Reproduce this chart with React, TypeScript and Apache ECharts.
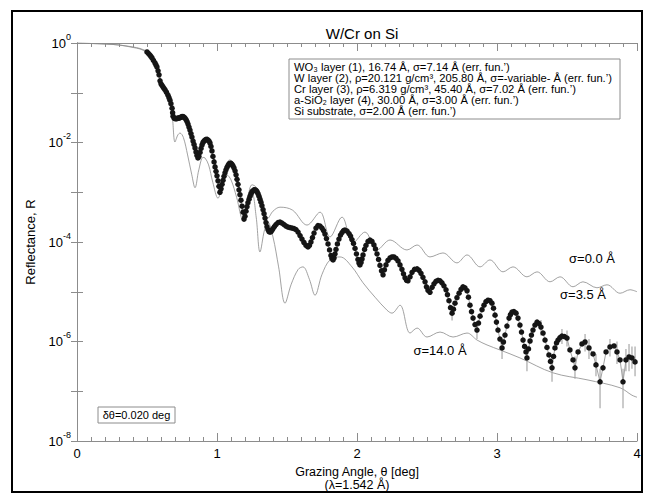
import React, { useEffect, useRef } from 'react';
import * as echarts from 'echarts';

const FONT = '"Liberation Sans", Arial, Helvetica, sans-serif';

// Model curve sigma = 0.0 Å : [theta (deg), log10 R]
const sigma0Curve: [number, number][] = [
  [0, 0], [0.1, -0.01], [0.2, -0.02], [0.3, -0.04], [0.4, -0.08], [0.45, -0.11], [0.48, -0.14],
  [0.5, -0.17], [0.52, -0.22], [0.54, -0.29], [0.56, -0.4], [0.58, -0.56], [0.6, -0.74],
  [0.62, -0.86], [0.64, -0.96], [0.66, -1.08], [0.68, -1.28], [0.695, -1.45], [0.71, -1.47],
  [0.74, -1.45], [0.76, -1.44], [0.78, -1.48], [0.8, -1.62], [0.82, -1.82], [0.845, -2.1],
  [0.86, -2.22], [0.88, -2.1], [0.9, -1.93], [0.93, -1.88], [0.95, -1.95], [0.97, -2.2],
  [0.99, -2.5], [1.02, -2.95], [1.05, -2.62], [1.09, -2.35], [1.12, -2.42], [1.15, -2.72],
  [1.19, -3.45], [1.22, -3.1], [1.25, -2.85], [1.28, -2.9], [1.32, -3.2], [1.364, -3.52],
  [1.4, -3.38], [1.45, -3.3], [1.54, -3.36], [1.643, -3.66], [1.736, -3.4], [1.807, -3.9],
  [1.893, -3.5], [1.971, -4.02], [2.057, -3.8], [2.143, -4.16], [2.236, -3.96], [2.357, -4.16],
  [2.429, -4.06], [2.521, -4.3], [2.614, -4.22], [2.714, -4.42], [2.786, -4.26], [2.879, -4.5],
  [2.95, -4.36], [3.043, -4.6], [3.114, -4.5], [3.214, -4.7], [3.286, -4.6], [3.379, -4.8],
  [3.45, -4.7], [3.543, -4.9], [3.614, -4.8], [3.714, -4.92], [3.786, -4.86], [3.879, -5.03],
  [3.95, -4.96], [4.0, -5.0],
];

// Model curve sigma = 14.0 Å : [theta (deg), log10 R]
const sigma14Curve: [number, number][] = [
  [0, 0], [0.1, -0.01], [0.2, -0.02], [0.3, -0.04], [0.4, -0.09], [0.45, -0.12], [0.48, -0.16],
  [0.5, -0.2], [0.52, -0.26], [0.54, -0.34], [0.56, -0.47], [0.58, -0.64], [0.6, -0.8],
  [0.62, -0.92], [0.64, -1.02], [0.66, -1.15], [0.68, -1.45], [0.7, -1.99], [0.72, -1.85],
  [0.736, -1.81], [0.76, -1.9], [0.79, -2.25], [0.82, -2.65], [0.843, -2.91], [0.87, -2.55],
  [0.9, -2.3], [0.914, -2.31], [0.94, -2.45], [0.97, -2.8], [1.007, -3.12], [1.04, -2.85],
  [1.07, -2.65], [1.1, -2.75], [1.14, -3.1], [1.186, -3.56], [1.22, -3.25], [1.25, -3.0],
  [1.28, -3.5], [1.307, -4.2], [1.34, -3.75], [1.364, -3.6], [1.4, -3.9], [1.44, -4.5],
  [1.486, -5.23], [1.53, -4.85], [1.58, -4.55], [1.614, -4.5], [1.66, -4.75], [1.7, -5.07],
  [1.75, -4.65], [1.807, -4.36], [1.879, -4.3], [1.964, -4.5], [2.043, -4.82], [2.129, -5.11],
  [2.214, -5.37], [2.25, -5.43], [2.307, -5.27], [2.379, -5.83], [2.429, -5.73], [2.5, -5.91],
  [2.593, -5.81], [2.686, -5.91], [2.786, -5.83], [2.857, -5.97], [2.929, -6.07], [3.021, -6.17],
  [3.164, -6.33], [3.4, -6.63], [3.643, -6.77], [3.879, -6.93], [3.964, -7.08], [4.0, -7.12],
];

// Measured reflectance (fit sigma = 3.5 Å) : [theta (deg), log10 R]
const measured: [number, number][] = [
  [0.5, -0.18], [0.51, -0.21], [0.52, -0.24], [0.528, -0.27], [0.536, -0.3], [0.546, -0.35],
  [0.557, -0.4], [0.564, -0.44], [0.571, -0.48], [0.579, -0.56], [0.586, -0.64], [0.593, -0.76],
  [0.6, -0.82], [0.607, -0.85], [0.614, -0.88], [0.621, -0.91], [0.629, -0.94], [0.639, -0.99],
  [0.65, -1.05], [0.657, -1.1], [0.664, -1.15], [0.671, -1.22], [0.679, -1.31], [0.683, -1.4],
  [0.686, -1.47], [0.693, -1.51], [0.7, -1.52], [0.707, -1.52], [0.714, -1.52], [0.721, -1.51],
  [0.729, -1.51], [0.736, -1.5], [0.743, -1.49], [0.75, -1.48], [0.757, -1.48], [0.764, -1.49],
  [0.771, -1.51], [0.779, -1.54], [0.786, -1.58], [0.793, -1.63], [0.8, -1.69], [0.807, -1.75],
  [0.814, -1.82], [0.821, -1.89], [0.829, -1.97], [0.836, -2.04], [0.843, -2.11], [0.85, -2.19],
  [0.857, -2.26], [0.864, -2.31], [0.871, -2.28], [0.879, -2.2], [0.886, -2.12], [0.893, -2.05],
  [0.9, -2.0], [0.907, -1.97], [0.914, -1.95], [0.921, -1.94], [0.929, -1.94], [0.936, -1.95],
  [0.943, -1.97], [0.95, -2.01], [0.957, -2.08], [0.964, -2.17], [0.971, -2.28], [0.979, -2.39],
  [0.986, -2.49], [0.993, -2.58], [1.0, -2.67], [1.007, -2.77], [1.014, -2.88], [1.021, -3.0],
  [1.029, -2.93], [1.036, -2.84], [1.043, -2.76], [1.05, -2.68], [1.057, -2.61], [1.064, -2.55],
  [1.071, -2.5], [1.079, -2.46], [1.086, -2.43], [1.093, -2.42], [1.1, -2.42], [1.107, -2.44],
  [1.114, -2.47], [1.121, -2.51], [1.129, -2.57], [1.136, -2.65], [1.143, -2.74], [1.15, -2.84],
  [1.157, -2.95], [1.164, -3.05], [1.171, -3.16], [1.179, -3.28], [1.186, -3.4], [1.193, -3.54],
  [1.2, -3.48], [1.207, -3.38], [1.214, -3.29], [1.221, -3.21], [1.229, -3.14], [1.236, -3.08],
  [1.243, -3.03], [1.25, -2.99], [1.257, -2.97], [1.264, -2.95], [1.271, -2.95], [1.279, -2.96],
  [1.286, -2.99], [1.293, -3.03], [1.3, -3.08], [1.307, -3.14], [1.314, -3.2], [1.321, -3.27],
  [1.329, -3.35], [1.336, -3.43], [1.343, -3.52], [1.35, -3.61], [1.357, -3.69], [1.364, -3.75],
  [1.371, -3.79], [1.379, -3.8], [1.386, -3.79], [1.393, -3.76], [1.4, -3.73], [1.41, -3.69],
  [1.421, -3.65], [1.436, -3.61], [1.45, -3.6], [1.464, -3.62], [1.479, -3.65], [1.493, -3.68],
  [1.507, -3.7], [1.521, -3.71], [1.536, -3.72], [1.55, -3.73], [1.564, -3.75], [1.579, -3.8],
  [1.593, -3.87], [1.607, -3.94], [1.621, -4.01], [1.636, -4.07], [1.65, -4.1], [1.66, -4.07],
  [1.671, -4.0], [1.682, -3.91], [1.693, -3.82], [1.707, -3.72], [1.721, -3.67], [1.736, -3.68],
  [1.75, -3.72], [1.761, -3.77], [1.771, -3.84], [1.782, -3.93], [1.793, -4.04], [1.804, -4.16],
  [1.814, -4.27], [1.821, -4.33], [1.829, -4.36], [1.836, -4.32], [1.843, -4.24], [1.85, -4.15],
  [1.86, -4.04], [1.871, -3.94], [1.882, -3.86], [1.893, -3.81], [1.904, -3.77], [1.914, -3.76],
  [1.929, -3.78], [1.943, -3.83], [1.954, -3.88], [1.964, -3.95], [1.975, -4.03], [1.986, -4.13],
  [1.996, -4.24], [2.007, -4.35], [2.014, -4.42], [2.021, -4.46], [2.029, -4.41], [2.036, -4.34],
  [2.043, -4.26], [2.054, -4.15], [2.064, -4.07], [2.079, -3.99], [2.093, -3.96], [2.107, -3.99],
  [2.121, -4.06], [2.132, -4.14], [2.143, -4.24], [2.154, -4.35], [2.164, -4.47], [2.175, -4.58],
  [2.186, -4.66], [2.196, -4.56], [2.207, -4.46], [2.221, -4.37], [2.236, -4.32], [2.25, -4.3],
  [2.264, -4.3], [2.279, -4.33], [2.293, -4.38], [2.307, -4.46], [2.321, -4.55], [2.332, -4.64],
  [2.343, -4.72], [2.354, -4.77], [2.364, -4.78], [2.379, -4.7], [2.393, -4.61], [2.411, -4.55],
  [2.429, -4.54], [2.443, -4.57], [2.457, -4.63], [2.471, -4.71], [2.486, -4.8], [2.496, -4.9],
  [2.507, -4.97], [2.521, -5.01], [2.536, -4.91], [2.55, -4.84], [2.564, -4.79], [2.579, -4.77],
  [2.593, -4.78], [2.607, -4.82], [2.621, -4.88], [2.636, -4.96], [2.646, -5.06], [2.657, -5.18],
  [2.668, -5.32], [2.679, -5.43], [2.689, -5.35], [2.7, -5.23], [2.714, -5.12], [2.729, -5.03],
  [2.743, -4.95], [2.757, -4.9], [2.771, -4.92], [2.786, -4.98], [2.796, -5.11], [2.807, -5.27],
  [2.818, -5.4], [2.829, -5.53], [2.843, -5.66], [2.857, -5.77], [2.868, -5.63], [2.879, -5.49],
  [2.893, -5.36], [2.907, -5.27], [2.921, -5.2], [2.936, -5.17], [2.95, -5.18], [2.964, -5.23],
  [2.975, -5.33], [2.986, -5.47], [2.996, -5.61], [3.007, -5.77], [3.021, -5.95], [3.036, -6.13],
  [3.046, -6.01], [3.057, -5.87], [3.071, -5.69], [3.086, -5.53], [3.096, -5.46], [3.107, -5.41],
  [3.121, -5.4], [3.136, -5.43], [3.15, -5.53], [3.164, -5.67], [3.175, -5.81], [3.186, -5.97],
  [3.197, -6.1], [3.207, -6.21], [3.214, -6.33], [3.225, -6.15], [3.236, -5.99], [3.246, -5.87],
  [3.257, -5.77], [3.271, -5.67], [3.286, -5.61], [3.3, -5.64], [3.314, -5.71], [3.329, -5.83],
  [3.343, -5.97], [3.357, -6.12], [3.371, -6.27], [3.382, -6.4], [3.393, -6.53], [3.404, -6.3],
  [3.414, -6.13], [3.425, -6.03], [3.436, -5.97], [3.45, -5.92], [3.464, -5.89], [3.482, -5.9],
  [3.5, -5.93], [3.521, -6.17], [3.543, -6.37], [3.557, -6.53], [3.579, -6.21], [3.607, -6.05],
  [3.629, -6.01], [3.657, -6.13], [3.686, -6.25], [3.707, -6.47], [3.736, -6.81], [3.757, -6.53],
  [3.779, -6.21], [3.807, -6.11], [3.836, -6.09], [3.857, -6.21], [3.879, -6.37], [3.9, -6.81],
  [3.921, -6.37], [3.943, -6.31], [3.964, -6.33], [3.986, -6.41],
];

// Error bars: [theta, log10 R low, log10 R high]
const errorBars: [number, number, number][] = [
  [2.679, -5.58, -5.3], [2.857, -5.95, -5.6], [3.036, -6.35, -5.95], [3.214, -6.6, -6.1],
  [3.314, -5.88, -5.57], [3.393, -6.81, -6.3], [3.464, -6.05, -5.75], [3.5, -6.1, -5.78],
  [3.557, -6.75, -6.3], [3.629, -6.2, -5.85], [3.657, -6.35, -5.95], [3.707, -6.7, -6.25],
  [3.736, -7.34, -6.55], [3.807, -6.3, -5.95], [3.857, -6.45, -6.0], [3.9, -7.34, -6.55],
  [3.921, -6.6, -6.15], [3.943, -6.6, -6.05], [3.964, -6.55, -6.1], [3.986, -6.7, -6.1],
];

const layerLines = [
  'WO₃ layer (1), 16.74 Å, σ=7.14 Å (err. fun.’)',
  'W layer (2), ρ=20.121 g/cm³, 205.80 Å, σ=-variable- Å (err. fun.’)',
  'Cr layer (3), ρ=6.319 g/cm³, 45.40 Å, σ=7.02 Å (err. fun.’)',
  'a-SiO₂ layer (4), 30.00 Å, σ=3.00 Å (err. fun.’)',
  'Si substrate, σ=2.00 Å (err. fun.’)',
];

const curveLabels = ['σ=0.0 Å', 'σ=3.5 Å', 'σ=14.0 Å'];

const toR = (pts: [number, number][]) => pts.map(([t, l]) => [t, Math.pow(10, l)]);

export default function App() {
  const ref = useRef<HTMLDivElement>(null);
  useEffect(() => {
    const chart = echarts.init(ref.current!, null, { renderer: 'svg' });
    const axisGray = '#8c8c8c';
    const curveGray = '#8a8a8a';
    const option: any = {
      animation: false,
      backgroundColor: '#fff',
      textStyle: { fontFamily: FONT },
      title: {
        text: 'W/Cr on Si',
        left: 357,
        top: 21,
        textAlign: 'center',
        textStyle: { fontFamily: FONT, fontSize: 15, fontWeight: 'normal', color: '#000' },
      },
      grid: { left: 77, right: 17, top: 43, bottom: 60 },
      xAxis: [
        {
          type: 'value', min: 0, max: 4, interval: 1,
          name: 'Grazing Angle, θ [deg]\n(λ=1.542 Å)',
          nameLocation: 'middle', nameGap: 18,
          nameTextStyle: { fontFamily: FONT, fontSize: 12.5, color: '#000', lineHeight: 13.5 },
          axisLine: { lineStyle: { color: axisGray, width: 1 } },
          axisTick: { inside: true, length: 8, lineStyle: { color: axisGray } },
          minorTick: { show: true, splitNumber: 10, length: 4, lineStyle: { color: axisGray } },
          splitLine: { show: false },
          axisLabel: { fontFamily: FONT, fontSize: 13, color: '#000', margin: 6 },
        },
        {
          type: 'value', min: 0, max: 4, interval: 1, position: 'top',
          axisLine: { lineStyle: { color: axisGray, width: 1 } },
          axisTick: { inside: true, length: 8, lineStyle: { color: axisGray } },
          minorTick: { show: true, splitNumber: 10, length: 4, lineStyle: { color: axisGray } },
          splitLine: { show: false },
          axisLabel: { show: false },
        },
      ],
      yAxis: [
        {
          type: 'log', logBase: 10, min: 1e-8, max: 1, splitNumber: 8,
          name: 'Reflectance, R', nameLocation: 'middle', nameGap: 40, nameRotate: 90,
          nameTextStyle: { fontFamily: FONT, fontSize: 13, color: '#000' },
          axisLine: { show: true, lineStyle: { color: axisGray, width: 1 } },
          axisTick: { inside: true, length: 6, lineStyle: { color: axisGray } },
          splitLine: { show: false },
          axisLabel: {
            margin: 6,
            formatter: (v: number) => {
              const e = Math.round(Math.log10(v));
              if (e % 2 !== 0) return '';
              return `{b|10}{s|${e}}`;
            },
            rich: {
              b: { fontFamily: FONT, fontSize: 13, color: '#000', lineHeight: 22 },
              s: { fontFamily: FONT, fontSize: 9, color: '#000', lineHeight: 10, verticalAlign: 'top' },
            },
          },
        },
        {
          type: 'log', logBase: 10, min: 1e-8, max: 1, splitNumber: 8, position: 'right',
          axisLine: { show: true, lineStyle: { color: axisGray, width: 1 } },
          axisTick: { inside: true, length: 6, lineStyle: { color: axisGray } },
          splitLine: { show: false },
          axisLabel: { show: false },
        },
      ],
      series: [
        {
          name: 'σ=0.0 Å', type: 'line', data: toR(sigma0Curve), showSymbol: false, smooth: 0.35,
          lineStyle: { color: curveGray, width: 0.8 }, z: 2,
        },
        {
          name: 'σ=14.0 Å', type: 'line', data: toR(sigma14Curve), showSymbol: false, smooth: 0.35,
          lineStyle: { color: curveGray, width: 0.8 }, z: 2,
        },
        {
          name: 'error', type: 'custom', z: 3,
          data: errorBars.map(([t, lo, hi]) => [t, Math.pow(10, lo), Math.pow(10, hi)]),
          encode: { x: 0, y: [1, 2] },
          renderItem: (_p: any, api: any) => {
            const t = api.value(0);
            const a = api.coord([t, api.value(1)]);
            const b = api.coord([t, api.value(2)]);
            return {
              type: 'line',
              shape: { x1: a[0], y1: a[1], x2: b[0], y2: b[1] },
              style: { stroke: '#a8a8a8', lineWidth: 1.2 },
            };
          },
        },
        {
          name: 'σ=3.5 Å', type: 'line', data: toR(measured), symbol: 'circle', symbolSize: 5.5,
          showSymbol: true, showAllSymbol: true,
          itemStyle: { color: '#151515' }, lineStyle: { color: curveGray, width: 0.8 }, z: 4,
        },
      ],
      graphic: [
        {
          type: 'rect', shape: { x: 12, y: 11, width: 630, height: 481 },
          style: { fill: 'none', stroke: '#000', lineWidth: 2 }, z: 100,
        },
        {
          type: 'rect', shape: { x: 289, y: 59, width: 331, height: 60 },
          style: { fill: '#fff', stroke: '#8c8c8c', lineWidth: 1 }, z: 50,
        },
        {
          type: 'text', x: 294, y: 62, z: 51,
          style: {
            text: layerLines.join('\n'), font: `11.2px ${FONT}`, fill: '#000', lineHeight: 10.8,
          },
        },
        {
          type: 'rect', shape: { x: 98, y: 407, width: 77, height: 16 },
          style: { fill: '#fff', stroke: '#8c8c8c', lineWidth: 1 }, z: 50,
        },
        {
          type: 'text', x: 136.5, y: 415, z: 51,
          style: {
            text: 'δθ=0.020 deg', font: `11px ${FONT}`, fill: '#000',
            textAlign: 'center', textVerticalAlign: 'middle',
          },
        },
        {
          type: 'text', x: 592, y: 258, z: 51,
          style: { text: curveLabels[0], font: `13px ${FONT}`, fill: '#000', textAlign: 'center', textVerticalAlign: 'middle' },
        },
        {
          type: 'text', x: 583, y: 294, z: 51,
          style: { text: curveLabels[1], font: `13px ${FONT}`, fill: '#000', textAlign: 'center', textVerticalAlign: 'middle' },
        },
        {
          type: 'text', x: 440, y: 350, z: 51,
          style: { text: curveLabels[2], font: `13px ${FONT}`, fill: '#000', textAlign: 'center', textVerticalAlign: 'middle' },
        },
      ],
    };
    chart.setOption(option);
    return () => chart.dispose();
  }, []);
  return (
    <div
      ref={ref}
      style={{ position: 'fixed', left: 0, top: 0, width: 654, height: 501, background: '#fff' }}
    />
  );
}
